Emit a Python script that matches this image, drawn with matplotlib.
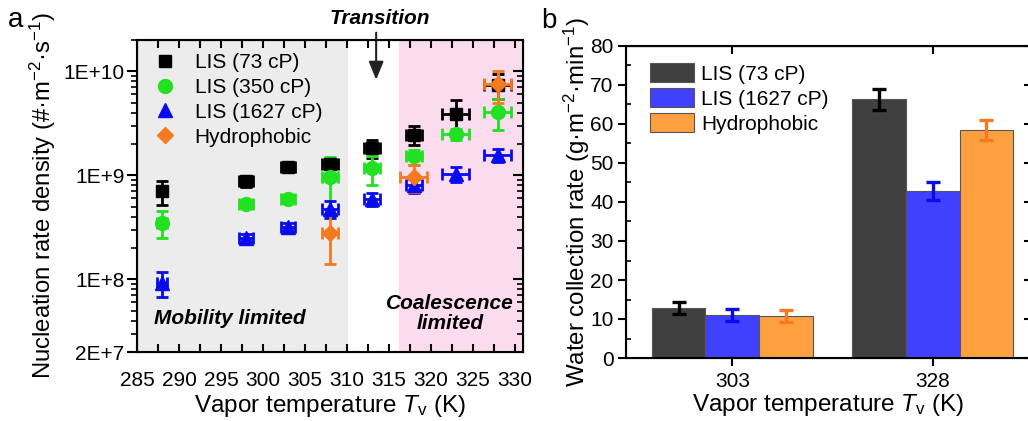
import matplotlib
matplotlib.use("Agg")
import matplotlib.pyplot as plt
import matplotlib.transforms as mtransforms
from matplotlib.lines import Line2D
from matplotlib.ticker import FixedLocator, MultipleLocator, LogLocator, NullFormatter
import numpy as np

plt.rcParams['font.family'] = ['Liberation Sans', 'DejaVu Sans']
plt.rcParams['mathtext.fontset'] = 'custom'
plt.rcParams['mathtext.rm'] = 'Liberation Sans'
plt.rcParams['mathtext.it'] = 'Liberation Sans:italic'

# ---- panel a data: nucleation rate density vs vapor temperature
temps = [288, 298, 303, 308, 313, 318, 323, 328]
lis73 = [7.0e8, 8.8e8, 1.2e9, 1.28e9, 1.82e9, 2.45e9, 3.9e9, 7.4e9]
lis73_err = [1.8e8, 1.0e8, 0.5e8, 1.0e8, 3.5e8, 5.0e8, 1.4e9, 2.0e9]
lis73_xerr = [0.3, 0.8, 0.8, 0.9, 0.9, 1.0, 1.6, 1.6]
lis350 = [3.5e8, 5.3e8, 5.9e8, 9.6e8, 1.18e9, 1.52e9, 2.47e9, 4.05e9]
lis350_err = [1.0e8, 0.5e8, 0.4e8, 5.5e8, 3.7e8, 2.5e8, 3.0e8, 1.35e9]
lis350_xerr = [0.6, 0.8, 0.8, 1.0, 1.0, 1.0, 1.6, 1.6]
lis1627 = [9.3e7, 2.5e8, 3.2e8, 4.75e8, 5.9e8, 8.0e8, 1.03e9, 1.58e9]
lis1627_err = [2.5e7, 2.0e7, 3.0e7, 9.0e7, 8.0e7, 1.2e8, 1.7e8, 2.3e8]
lis1627_xerr = [0.6, 0.8, 0.8, 1.0, 1.0, 1.0, 1.6, 1.6]
hydro_temps = [308, 318, 328]
hydro = [2.8e8, 9.7e8, 7.5e9]
hydro_err = [1.4e8, 2.8e8, 2.5e9]
hydro_xerr = [1.0, 1.6, 1.6]

# ---- panel b data: water collection rate
bar_temps = ['303', '328']
rate73 = [12.8, 66.3]
rate73_err = [1.6, 2.6]
rate1627 = [11.0, 42.8]
rate1627_err = [1.6, 2.4]
rate_hydro = [10.8, 58.4]
rate_hydro_err = [1.5, 2.5]

fig = plt.figure(figsize=(10.28, 4.21), dpi=100)
W, H = 1028, 421

def box(l, t, r, b):
    return [l / W, 1 - b / H, (r - l) / W, (b - t) / H]

# ================= panel a =================
ax = fig.add_axes(box(137, 40, 523, 352))
ax.set_yscale('log')
ax.set_xlim(285, 331)
ax.set_ylim(2e7, 2e10)

ax.axvspan(285, 310.2, color='#ececec', lw=0, zorder=0)
ax.axvspan(316.2, 331, color='#fbdcee', lw=0, zorder=0)

series = [
    (temps, lis73, lis73_err, lis73_xerr, 's', '#000000', 'LIS (73 cP)', 8.5),
    (temps, lis350, lis350_err, lis350_xerr, 'o', '#22e022', 'LIS (350 cP)', 10),
    (temps, lis1627, lis1627_err, lis1627_xerr, '^', '#0a0aee', 'LIS (1627 cP)', 10),
    (hydro_temps, hydro, hydro_err, hydro_xerr, 'D', '#f47a1f', 'Hydrophobic', 8.5),
]
handles = []
for x, y, ye, xe, m, c, lab, ms in series:
    ax.errorbar(x, y, yerr=ye, xerr=xe, fmt=m, color=c, ms=ms, mec=c,
                elinewidth=2, capsize=4, capthick=2, zorder=3)
    handles.append(Line2D([], [], ls='none', marker=m, color=c, ms=ms))

ax.legend(handles, [s[6] for s in series], loc='upper left',
          bbox_to_anchor=(0.025, 0.985), frameon=False, fontsize=15,
          handletextpad=0.9, labelspacing=0.28, handlelength=1.0,
          borderaxespad=0)

ax.xaxis.set_major_locator(MultipleLocator(5))
ax.xaxis.set_minor_locator(MultipleLocator(2.5))
ax.yaxis.set_major_locator(FixedLocator([2e7, 1e8, 1e9, 1e10]))
ax.set_yticklabels(['2E+7', '1E+8', '1E+9', '1E+10'])
ax.yaxis.set_minor_locator(LogLocator(base=10, subs=np.arange(2, 10)))
ax.yaxis.set_minor_formatter(NullFormatter())
ax.tick_params(axis='both', which='major', labelsize=15, width=1.5)
ax.tick_params(axis='x', which='both', direction='in', top=True, length=6, width=1.5)
ax.tick_params(axis='x', which='major', pad=14)
ax.tick_params(axis='y', which='major', direction='out', length=7, pad=2)
ax.tick_params(axis='y', which='minor', direction='out', length=4, width=1.2)
for s in ax.spines.values():
    s.set_linewidth(1.5)

# right side inward ticks
axr = ax.twinx()
axr.set_yscale('log')
axr.set_ylim(ax.get_ylim())
axr.yaxis.set_major_locator(FixedLocator([1e8, 1e9, 1e10]))
axr.yaxis.set_minor_locator(LogLocator(base=10, subs=np.arange(2, 10)))
axr.tick_params(axis='y', which='both', direction='in', labelright=False)
axr.tick_params(axis='y', which='major', length=7, width=1.5)
axr.tick_params(axis='y', which='minor', length=4, width=1.2)

ax.set_xlabel('Vapor temperature $T_\\mathrm{v}$ (K)', fontsize=17.5, labelpad=2)
ax.set_ylabel('Nucleation rate density (#·m$^{-2}$·s$^{-1}$)', fontsize=17.2)
ax.yaxis.set_label_coords(-0.205, 0.5)

ax.text(296.1, 4.2e7, 'Mobility limited', fontsize=15, fontweight='bold',
        style='italic', ha='center', va='center')
ax.text(322.3, 4.66e7, 'Coalescence\nlimited', fontsize=15, fontweight='bold',
        style='italic', ha='center', va='center', linespacing=1.05)
ax.annotate('', xy=(313.5, 7.8e9), xytext=(313.5, 2.5e10),
            arrowprops=dict(arrowstyle='-|>,head_length=1.1,head_width=0.45',
                            color='#222222', lw=1.5),
            annotation_clip=False)
trans = mtransforms.blended_transform_factory(ax.transData, fig.transFigure)
ax.text(313.9, 1 - 19 / H, 'Transition', transform=trans, fontsize=15,
        fontweight='bold', style='italic', ha='center', va='center')
fig.text(16 / W, 1 - 20 / H, 'a', fontsize=20, ha='center', va='center')

# ================= panel b =================
bx = fig.add_axes(box(626, 46, 1031, 358))
pos = np.arange(len(bar_temps))
bw = 0.267
bars = [
    (rate73, rate73_err, '#404040', '#000000', 'LIS (73 cP)'),
    (rate1627, rate1627_err, '#4040ff', '#0a0aee', 'LIS (1627 cP)'),
    (rate_hydro, rate_hydro_err, '#ffa040', '#f47a1f', 'Hydrophobic'),
]
for i, (v, e, fc, ec, lab) in enumerate(bars):
    bx.bar(pos + (i - 1) * bw, v, bw, color=fc, edgecolor='#555555', lw=0.8,
           label=lab, zorder=2)
    bx.errorbar(pos + (i - 1) * bw, v, yerr=e, fmt='none', ecolor=ec,
                elinewidth=2.4, capsize=5, capthick=2.4, zorder=3)

bx.set_xlim(-0.53, 1.49)
bx.set_ylim(0, 80)
bx.set_xticks(pos)
bx.set_xticklabels(bar_temps)
bx.yaxis.set_major_locator(MultipleLocator(10))
bx.yaxis.set_minor_locator(MultipleLocator(5))
bx.tick_params(axis='both', which='major', labelsize=15, width=1.5)
bx.tick_params(axis='x', which='major', direction='out', length=6, pad=4)
bx.tick_params(axis='y', which='major', direction='out', length=6, pad=3)
bx.tick_params(axis='y', which='minor', direction='in', length=3.5, width=1.2)
for s in bx.spines.values():
    s.set_linewidth(1.5)
bxt = bx.secondary_xaxis('top')
bxt.set_xticks(pos)
bxt.tick_params(axis='x', direction='in', length=6, width=1.5, labeltop=False)
bxr = bx.twinx()
bxr.set_ylim(0, 80)
bxr.yaxis.set_major_locator(MultipleLocator(10))
bxr.tick_params(axis='y', direction='in', length=5, width=1.5, labelright=False)

bx.legend(loc='upper left', bbox_to_anchor=(0.039, 0.972), frameon=False,
          fontsize=15, handlelength=2.1, handleheight=1.0,
          handletextpad=0.34, labelspacing=0.22, borderaxespad=0)
bx.set_xlabel('Vapor temperature $T_\\mathrm{v}$ (K)', fontsize=17.5, labelpad=1)
bx.set_ylabel('Water collection rate (g·m$^{-2}$·min$^{-1}$)', fontsize=17.3)
bx.yaxis.set_label_coords(-0.085, 0.5)
fig.text(549 / W, 1 - 21 / H, 'b', fontsize=20, ha='center', va='center')

fig.savefig('out.png', dpi=100)
